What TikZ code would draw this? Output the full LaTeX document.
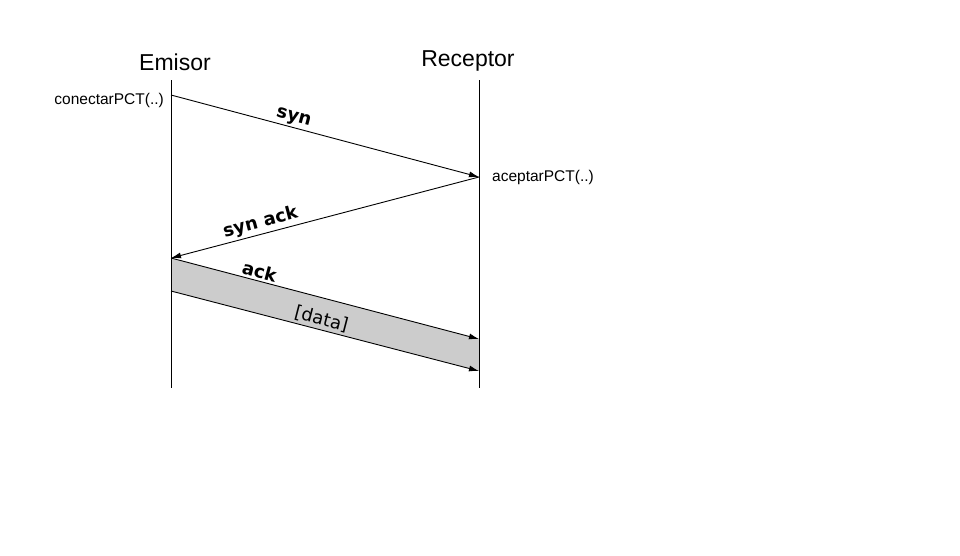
\documentclass[tikz,border=0pt]{standalone}
\usepackage{fontspec}
\setmainfont{Liberation Sans}
\newfontfamily\lblfont{DejaVu Sans}
\usetikzlibrary{arrows.meta}
\begin{document}
\begin{tikzpicture}[x=1pt,y=-1pt,
  lifeline/.style={draw=black,line width=0.9pt},
  msg/.style={draw=black,line width=0.9pt,-{Latex[length=10pt,width=6pt]}},
  actor/.style={font=\fontsize{23}{26}\selectfont,anchor=base,inner sep=0pt},
  call/.style={font=\fontsize{15.5}{18}\selectfont,inner sep=0pt},
  mlabel/.style={font=\lblfont\bfseries\fontsize{18}{20}\selectfont,sloped,above,inner sep=2pt},
  dlabel/.style={font=\lblfont\fontsize{18}{20}\selectfont,sloped,above,inner sep=2pt}]
\useasboundingbox (0,0) rectangle (960,555);
% lifelines
\coordinate (et) at (171,80);
\coordinate (eb) at (171,388);
\coordinate (rt) at (479,80);
\coordinate (rb) at (479,388);
% message points
\coordinate (a) at (171,95);
\coordinate (b) at (479,177);
\coordinate (c) at (171,258);
\coordinate (d) at (479,339);
\coordinate (e) at (171,291);
\coordinate (f) at (479,371);
% band
\fill[fill={rgb,255:red,204;green,204;blue,204}] (c) -- (d) -- (f) -- (e) -- cycle;
\draw[lifeline] (et) -- (eb);
\draw[lifeline] (rt) -- (rb);
\node[actor] (emisor) at (175,70) {Emisor};
\node[actor] (receptor) at (468,66) {Receptor};
\node[call,anchor=east] (con) at (164,100) {conectarPCT(..)};
\node[call,anchor=base west] (acep) at (492,181) {aceptarPCT(..)};
\draw[msg] (a) -- node[mlabel,pos=0.39] (syn) {syn} (b);
\draw[msg] (b) -- node[mlabel,pos=0.70] (synack) {syn ack} (c);
\draw[msg] (c) -- node[mlabel,pos=0.28] (ack) {ack} (d);
\draw[msg] (e) -- node[dlabel,pos=0.48] (data) {[data]} (f);
\end{tikzpicture}
\end{document}
